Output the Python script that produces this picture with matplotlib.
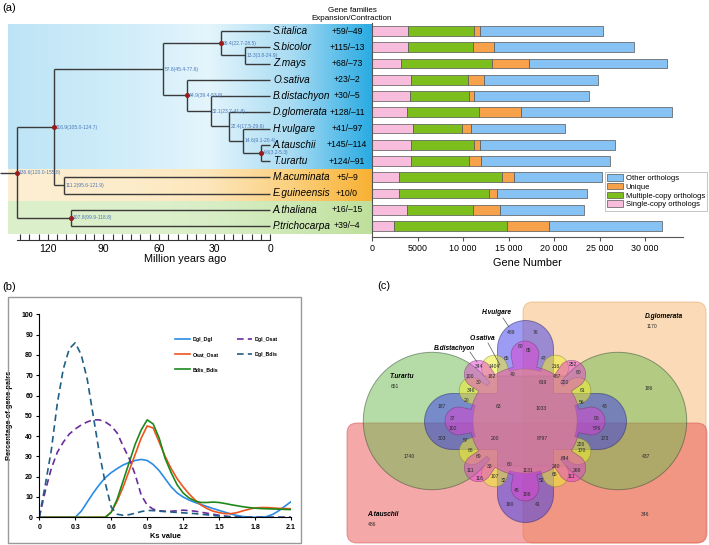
import numpy as np
import matplotlib
matplotlib.use('Agg')
import matplotlib.pyplot as plt
from matplotlib.patches import Polygon, FancyBboxPatch, Rectangle, Patch
from matplotlib.colors import LinearSegmentedColormap

plt.rcParams['font.family'] = ['Liberation Sans', 'DejaVu Sans']

# ---------------- data: panel (a) ----------------
species = ['S.italica', 'S.bicolor', 'Z.mays', 'O.sativa', 'B.distachyon', 'D.glomerata',
           'H.vulgare', 'A.tauschii', 'T.urartu', 'M.acuminata', 'E.guineensis',
           'A.thaliana', 'P.trichocarpa']
exp_contr = ['+59/\u201349', '+115/\u201313', '+68/\u201373', '+23/\u20132', '+30/\u20135',
             '+128/\u201311', '+41/\u201397', '+145/\u2013114', '+124/\u201391', '+5/\u20139',
             '+10/0', '+16/\u201315', '+39/\u20134']
single_copy = [3890, 3960, 3160, 4260, 4110, 3850, 4510, 4260, 4260, 2970, 2970, 3850, 2420]
multi_copy = [7335, 7080, 9970, 6230, 6530, 7920, 5320, 6890, 6410, 11260, 9900, 7260, 12360]
unique = [625, 2380, 4140, 1800, 550, 4550, 1060, 700, 1290, 1390, 880, 2940, 4620]
other = [13490, 15400, 15110, 12580, 12650, 16650, 10340, 14850, 14190, 9610, 9910, 9280, 12430]

# tree: (age, child, child)
tree = (136.6,
        (116.9,
         (57.6,
          (26.4, 'S.italica', (13.3, 'S.bicolor', 'Z.mays')),
          (44.9, 'O.sativa',
           (32.1, 'B.distachyon',
            (22.4, 'D.glomerata',
             (14.6, 'H.vulgare', (4.6, 'A.tauschii', 'T.urartu')))))),
         (111.2, 'M.acuminata', 'E.guineensis')),
        (107.8, 'A.thaliana', 'P.trichocarpa'))
node_ci = {136.6: '120.0-155.8', 116.9: '105.0-124.7', 57.6: '45.4-77.6', 26.4: '22.7-28.5',
           13.3: '3.8-24.9', 44.9: '39.4-53.8', 32.1: '23.7-41.8', 22.4: '17.5-29.6',
           14.6: '9.1-20.4', 4.6: '3.2-5.3', 111.2: '95.6-121.9', 107.8: '99.9-118.8'}
calibrated = [136.6, 116.9, 26.4, 44.9, 4.6, 107.8]

# ---------------- data: panel (b) ----------------
ks = [0, 0.05, 0.1, 0.15, 0.2, 0.25, 0.3, 0.35, 0.4, 0.45, 0.5, 0.55, 0.6, 0.65, 0.7, 0.75,
      0.8, 0.85, 0.9, 0.95, 1.0, 1.05, 1.1, 1.15, 1.2, 1.25, 1.3, 1.35, 1.4, 1.45, 1.5, 1.55,
      1.6, 1.65, 1.7, 1.75, 1.8, 1.85, 1.9, 1.95, 2.0, 2.05, 2.1]
dgl_dgl = [0, 0, 0, 0, 0, 0, 0, 3, 7.5, 12, 16, 19.5, 22, 24, 25.8, 27, 28, 28.5, 28, 26, 23,
           19, 15, 12, 10, 8.5, 7.3, 6.3, 5.3, 4.3, 3.4, 2.5, 1.6, 0.9, 0.4, 0.1, 0, 0, 0.4,
           1.5, 3.3, 5.5, 7.7]
osat_osat = [0, 0, 0, 0, 0, 0, 0, 0, 0, 0, 0, 0, 2.5, 8, 15, 23, 31, 39, 45, 44, 37, 30, 24,
             19, 15, 11.5, 8.5, 6, 4.3, 3, 2.3, 1.8, 1.8, 2.3, 3.2, 4, 4.6, 4.8, 4.8, 4.6,
             4.4, 4.3, 4.2]
bdis_bdis = [0, 0, 0, 0, 0, 0, 0, 0, 0, 0, 0, 0, 2.5, 9, 18, 27, 36, 43, 48, 46, 39, 29, 22,
             16, 12, 9.5, 8, 7.3, 7.3, 7.5, 7.3, 6.8, 6.2, 5.7, 5.2, 4.8, 4.5, 4.3, 4.2, 4.1,
             4.0, 3.9, 3.8]
dgl_osat = [0, 13, 24, 32, 37, 41, 43.5, 45.5, 47, 48, 48, 47, 45, 41.5, 35, 29, 21, 11, 6, 4,
            3.2, 3, 3, 3.2, 3.5, 3.3, 3, 2.5, 2, 1.5, 1, 0.6, 0.3, 0.1, 0, 0, 0, 0, 0, 0, 0,
            0, 0]
dgl_bdis = [0, 16, 33, 56, 73, 83, 86, 80, 68, 50, 32, 17, 5, 1.5, 1, 1.3, 2, 2.8, 3.4, 3.3,
            3, 2.8, 2.6, 2.4, 2.2, 2, 1.8, 1.5, 1.2, 0.9, 0.6, 0.4, 0.2, 0.1, 0, 0, 0, 0, 0,
            0, 0, 0, 0]

# ---------------- data: panel (c) ----------------
venn_counts = [489, 76, 80, 85, 344, 1404, 65, 47, 216, 252, 100, 182, 49, 619, 487, 80, 30,
               220, 346, 61, 20, 56, 187, 63, 1033, 43, 37, 96, 102, 576, 303, 57, 200, 8797,
               226, 173, 86, 170, 69, 844, 1740, 437, 60, 33, 240, 111, 1131, 268, 116, 107,
               32, 52, 65, 111, 45, 106, 160, 41, 651, 1170, 186, 486, 346]
venn_xy = [(511, 333), (536, 333), (521, 346), (529, 351), (479, 366), (494, 367), (506, 359),
           (544, 359), (556, 367), (573, 364), (470, 376), (492, 376), (513, 374), (543, 382),
           (557, 376), (579, 373), (479, 383), (565, 383), (471, 391), (582, 391), (467, 401),
           (582, 403), (442, 407), (498, 407), (541, 408), (605, 407), (453, 418), (597, 418),
           (453, 428), (597, 428), (442, 439), (466, 441), (495, 438), (542, 438), (581, 444),
           (605, 438), (471, 451), (582, 451), (479, 457), (565, 459), (409, 457), (646, 457),
           (510, 464), (490, 467), (556, 467), (470, 470), (528, 471), (577, 470), (480, 478),
           (495, 476), (504, 481), (542, 481), (554, 475), (571, 477), (517, 491), (527, 495),
           (510, 504), (538, 504), (395, 387), (652, 327), (649, 389), (372, 524), (645, 514)]

W, H = 709, 545
fig = plt.figure(figsize=(W / 100, H / 100), dpi=100)


def ax_px(x0, y0, x1, y1):
    return fig.add_axes([x0 / W, 1 - y1 / H, (x1 - x0) / W, (y1 - y0) / H])


def ftext(x, y, s, **kw):
    fig.text(x / W, 1 - y / H, s, **kw)


# ================= panel (a): tree =================
T0, PXMY, R0, RPX = 270.0, 1.85, 31.0, 16.25


def t_of(px):
    return (T0 - px) / PXMY


def r_of(py):
    return (py - R0) / RPX


axt = ax_px(0, 20, 371, 240)
bands = [
    (-0.37, 8.5, ['#bde4f6', '#d3eefa', '#e4f5fc', '#a9dcf3', '#2aabe3']),
    (8.5, 10.5, ['#fdefd4', '#fdecc9', '#fde6bb', '#fbd07e', '#f8b133']),
    (10.5, 12.5, ['#dcefcb', '#ddf0cc', '#d9eec6', '#cde8b4', '#bfe09c']),
]
for top, bot, cols in bands:
    cm = LinearSegmentedColormap.from_list('b', list(zip([0, 0.35, 0.55, 0.78, 1.0], cols)))
    axt.imshow(np.linspace(0, 1, 256)[None, :], cmap=cm, aspect='auto', interpolation='bilinear',
               extent=(t_of(8), t_of(371), bot, top), zorder=0)

leaf_y = {s: i for i, s in enumerate(species)}
line_kw = dict(color='#3a3a3a', lw=1.0, zorder=3, solid_capstyle='butt')


def draw(node):
    if isinstance(node, str):
        return leaf_y[node], 0.0
    age, a, b = node
    ya, ta = draw(a)
    yb, tb = draw(b)
    axt.plot([ta, age], [ya, ya], **line_kw)
    axt.plot([tb, age], [yb, yb], **line_kw)
    axt.plot([age, age], [ya, yb], **line_kw)
    y = (ya + yb) / 2
    axt.text(age - 0.9, y, '%.1f(%s)' % (age, node_ci[age]), fontsize=3.6, color='#4a78b8',
             ha='left', va='center', zorder=4)
    if age in calibrated:
        axt.plot(age, y, 'o', color='#9b1b1b', ms=2.6, zorder=5)
    return y, age


ry, rt = draw(tree)
axt.plot([rt, t_of(0)], [ry, ry], **line_kw)

for i, s in enumerate(species):
    axt.text(t_of(273), i, s, fontsize=7.2, style='italic', ha='left', va='center', zorder=4)
    axt.text(t_of(347), i, exp_contr[i], fontsize=6.2, ha='center', va='center', zorder=4)

axt.set_xlim(t_of(0), t_of(371))
axt.set_ylim(r_of(240), r_of(20))
for sp in ['top', 'left', 'right']:
    axt.spines[sp].set_visible(False)
axt.spines['bottom'].set_bounds(0, t_of(17))
axt.spines['bottom'].set_color('#333333')
axt.spines['bottom'].set_linewidth(0.8)
axt.set_yticks([])
axt.set_xticks([120, 90, 60, 30, 0])
axt.set_xticks(np.arange(0, 136, 5), minor=True)
axt.tick_params(axis='x', which='both', direction='in', length=4, width=0.8, color='#333333',
                labelsize=7.5, pad=3)
axt.set_xlabel('Million years ago', fontsize=7.8, labelpad=0)
axt.patch.set_visible(False)

ftext(352, 10, 'Gene families', fontsize=5.8, ha='center', va='center')
ftext(352, 18, 'Expansion/Contraction', fontsize=5.8, ha='center', va='center')

# ================= panel (a): bars =================
axb = ax_px(372.3, 23, 682.7, 237.5)
rows = np.arange(len(species))
seg_cols = {'Single-copy orthologs': '#f8bcdc', 'Multiple-copy orthologs': '#7cbf1c',
            'Unique': '#f7a24a', 'Other orthologs': '#86c2f4'}
left = np.zeros(len(species))
for name, vals in [('Single-copy orthologs', single_copy), ('Multiple-copy orthologs', multi_copy),
                   ('Unique', unique), ('Other orthologs', other)]:
    axb.barh(rows, vals, left=left, height=0.6, color=seg_cols[name], edgecolor='#555555', lw=0.5)
    left += np.array(vals)
axb.set_xlim(0, 34150)
axb.set_ylim(r_of(237.5), r_of(23))
axb.set_xticks([0, 5000, 10000, 15000, 20000, 25000, 30000])
axb.set_xticklabels(['0', '5000', '10 000', '15 000', '20 000', '25 000', '30 000'])
axb.set_yticks([])
for sp in ['top', 'right']:
    axb.spines[sp].set_visible(False)
for sp in ['left', 'bottom']:
    axb.spines[sp].set_color('#555555')
    axb.spines[sp].set_linewidth(0.8)
axb.tick_params(axis='x', length=3, width=0.8, color='#555555', labelsize=6.4, pad=2)
axb.set_xlabel('Gene Number', fontsize=7.8, labelpad=3)
handles = [Patch(facecolor=seg_cols[k], edgecolor='#555555', lw=0.5, label=k)
           for k in ['Other orthologs', 'Unique', 'Multiple-copy orthologs', 'Single-copy orthologs']]
leg = axb.legend(handles=handles, loc='upper left', bbox_to_anchor=(605 / W, 1 - 172 / H),
                 bbox_transform=fig.transFigure, fontsize=5.5, fancybox=False, edgecolor='#aaaaaa',
                 borderpad=0.3, labelspacing=0.12, handlelength=2.0, handleheight=0.9,
                 handletextpad=0.4, borderaxespad=0)
leg.get_frame().set_linewidth(0.6)

# ================= panel (b) =================
fig.add_artist(Rectangle((8 / W, 1 - 543 / H), 293 / W, 246 / H, transform=fig.transFigure,
                         fill=False, edgecolor='#999999', lw=1))
axk = ax_px(39.3, 314.3, 291, 517.3)
dash = (0, (4, 2.5))
axk.plot(ks, dgl_dgl, color='#2b8ce6', lw=1.2, label='Dgl_Dgl')
axk.plot(ks, osat_osat, color='#f0541e', lw=1.2, label='Osat_Osat')
axk.plot(ks, bdis_bdis, color='#1b8a1b', lw=1.2, label='Bdis_Bdis')
axk.plot(ks, dgl_osat, color='#6a2c9a', lw=1.2, ls=dash, label='Dgl_Osat')
axk.plot(ks, dgl_bdis, color='#1f5f87', lw=1.2, ls=dash, label='Dgl_Bdis')
axk.set_xlim(0, 2.1)
axk.set_ylim(0, 100)
axk.set_xticks([0, 0.3, 0.6, 0.9, 1.2, 1.5, 1.8, 2.1])
axk.set_xticklabels(['0', '0.3', '0.6', '0.9', '1.2', '1.5', '1.8', '2.1'])
axk.set_yticks(range(0, 101, 10))
for sp in ['top', 'right']:
    axk.spines[sp].set_visible(False)
axk.tick_params(length=2.5, width=0.8, labelsize=5, pad=2)
for lab in axk.get_xticklabels() + axk.get_yticklabels():
    lab.set_fontweight('bold')
axk.set_xlabel('Ks value', fontsize=5.4, fontweight='bold', labelpad=2)
axk.set_ylabel('Percentage of gene pairs', fontsize=5.4, fontweight='bold', labelpad=6)
lk = axk.legend(ncol=2, loc='upper left', bbox_to_anchor=(175 / W, 1 - 337 / H),
                bbox_transform=fig.transFigure, frameon=False, prop={'size': 3.8, 'weight': 'bold'},
                handlelength=2.9, labelspacing=1.9, columnspacing=3.4, handletextpad=0.5,
                borderaxespad=0, borderpad=0)

# ================= panel (c): venn =================
axv = ax_px(310, 295, 709, 545)
axv.set_xlim(310, 709)
axv.set_ylim(545, 295)
axv.axis('off')

axv.add_patch(FancyBboxPatch((523, 302), 183, 241, boxstyle='round,pad=0,rounding_size=10',
                             facecolor='#f9b971', alpha=0.5, edgecolor='#e39a50', lw=0.7))
axv.add_patch(FancyBboxPatch((347, 423), 360, 120, boxstyle='round,pad=0,rounding_size=10',
                             facecolor='#eb5353', alpha=0.5, edgecolor='#d04848', lw=0.7))


def stadium(c1, c2, cy, r, h, n=120):
    a = np.arcsin(h / r)
    t1 = np.linspace(a, 2 * np.pi - a, n)
    t2 = np.linspace(np.pi + a, 3 * np.pi - a, n)
    p1 = np.column_stack([c1 + r * np.cos(t1), cy + r * np.sin(t1)])
    p2 = np.column_stack([c2 + r * np.cos(t2), cy + r * np.sin(t2)])
    return np.vstack([p1[::-1], p2[::-1]])


def cross(cx, cy, w, L, n=40):
    pts = []

    def cap(x0, y0, a0, a1):
        t = np.linspace(a0, a1, n)
        pts.extend(zip(x0 + w * np.cos(t), y0 + w * np.sin(t)))
    cap(cx, cy - L + w, np.pi, 2 * np.pi)
    pts.append((cx + w, cy - w))
    cap(cx + L - w, cy, -np.pi / 2, np.pi / 2)
    pts.append((cx + w, cy + w))
    cap(cx, cy + L - w, 0, np.pi)
    pts.append((cx - w, cy + w))
    cap(cx - L + w, cy, np.pi / 2, 3 * np.pi / 2)
    pts.append((cx - w, cy - w))
    return np.array(pts)


def flower(cx, cy, r0, d, rho, lobes, n=1440):
    # outline of a disk united with round lobes (star-shaped from the centre)
    th = np.linspace(0, 2 * np.pi, n, endpoint=False)
    r = np.full(n, float(r0))
    for l in np.radians(lobes):
        dl = np.angle(np.exp(1j * (th - l)))
        disc = rho ** 2 - (d * np.sin(dl)) ** 2
        ok = (disc >= 0) & (np.cos(dl) > 0)
        far = np.where(ok, d * np.cos(dl) + np.sqrt(np.clip(disc, 0, None)), 0)
        r = np.maximum(r, far)
    return np.column_stack([cx + r * np.cos(th), cy + r * np.sin(th)])


axv.add_patch(Polygon(stadium(432, 618, 421, 68.7, 45), closed=True, facecolor='#6cba50',
                      alpha=0.5, edgecolor='#2f4a2f', lw=0.7))
axv.add_patch(Polygon(cross(525.5, 421.5, 28, 101), closed=True, facecolor='#3a3aeb',
                      alpha=0.5, edgecolor='#2a2a70', lw=0.7))
axv.add_patch(Polygon(flower(525, 421, 52, 61, 13, [30, 60, 120, 150, 210, 240, 300, 330]),
                      closed=True, facecolor='#eeee30', alpha=0.55, edgecolor='#777733', lw=0.5))
axv.add_patch(Polygon(flower(525, 421, 55, 66, 14, range(0, 360, 45)), closed=True,
                      facecolor='#e040d0', alpha=0.5, edgecolor='#6a2a60', lw=0.5))

for n, (x, y) in zip(venn_counts, venn_xy):
    axv.text(x, y, str(n), fontsize=3.6, ha='center', va='center', color='#2a2a2a')

lab_kw = dict(fontsize=4.8, fontweight='bold', style='italic', va='center')
axv.text(497, 313, 'H.vulgare', ha='center', **lab_kw)
axv.text(482, 339, 'O.sativa', ha='center', **lab_kw)
axv.text(455, 348, 'B.distachyon', ha='center', **lab_kw)
axv.text(390, 376, 'T.urartu', ha='left', **lab_kw)
axv.text(645, 316, 'D.glomerata', ha='left', **lab_kw)
axv.text(367, 514, 'A.tauschii', ha='left', **lab_kw)
for (x0, y0), (x1, y1) in [((503, 318), (509, 327)), ((488, 343), (500, 365)),
                           ((470, 352), (477, 362))]:
    axv.plot([x0, x1], [y0, y1], color='#555555', lw=0.5)

ftext(2, 8, '(a)', fontsize=8, va='center')
ftext(2, 287, '(b)', fontsize=8, va='center')
ftext(377, 286, '(c)', fontsize=8, va='center')

fig.savefig('out.png', dpi=100)
